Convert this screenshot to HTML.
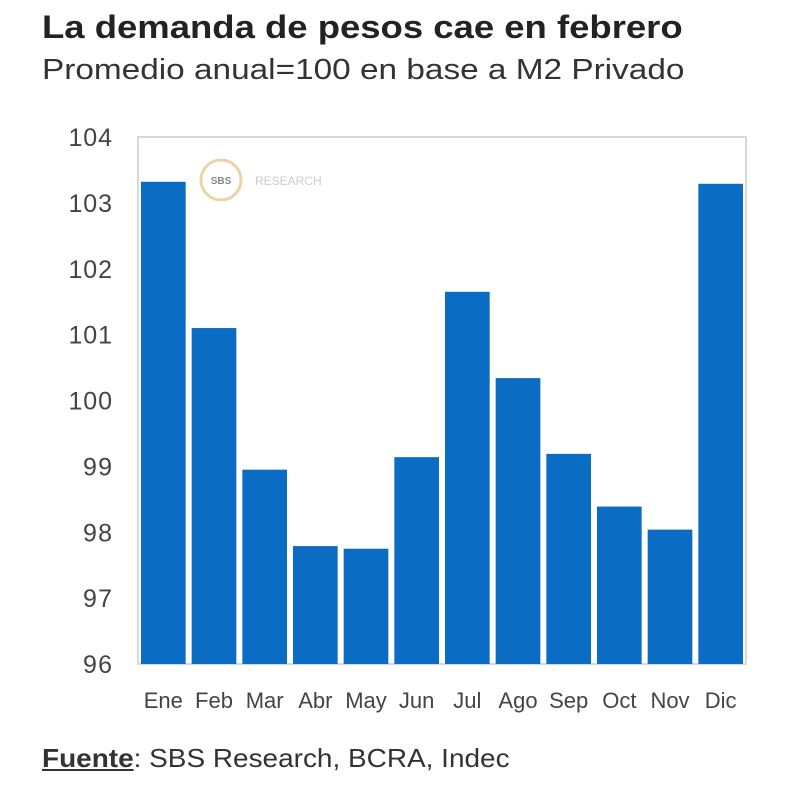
<!DOCTYPE html>
<html><head><meta charset="utf-8"><style>
body{margin:0;width:800px;height:786px;background:#fff;font-family:"Liberation Sans",sans-serif;overflow:hidden;position:relative}
.t{position:absolute;left:42px;top:9px;font-size:32px;font-weight:bold;color:#222;transform:scaleX(1.14);transform-origin:0 0;white-space:nowrap}
.s{position:absolute;left:42px;top:54px;font-size:29px;color:#333;transform:scaleX(1.15);transform-origin:0 0;white-space:nowrap}
.f{position:absolute;left:42px;top:743px;font-size:26px;color:#333;transform:scaleX(1.075);transform-origin:0 0;white-space:nowrap}
</style></head><body>
<div class="t">La demanda de pesos cae en febrero</div>
<div class="s">Promedio anual=100 en base a M2 Privado</div>
<svg id="c" width="800" height="786" style="position:absolute;left:0;top:0"></svg>
<div class="f"><b><u>Fuente</u></b>: SBS Research, BCRA, Indec</div>
<script>
const categories=["Ene","Feb","Mar","Abr","May","Jun","Jul","Ago","Sep","Oct","Nov","Dic"];
const values=[103.32,101.10,98.95,97.79,97.75,99.14,101.65,100.34,99.19,98.39,98.04,103.29];
const ticks=[96,97,98,99,100,101,102,103,104];
const NS="http://www.w3.org/2000/svg",svg=document.getElementById('c');
const x0=138,x1=746,y0=664,y1=137,vmin=96,vmax=104;
const y=v=>y0-(v-vmin)/(vmax-vmin)*(y0-y1);
const bw=(x1-x0)/categories.length;
function mk(t,a){const e=document.createElementNS(NS,t);for(const k in a)e.setAttribute(k,a[k]);svg.appendChild(e);return e;}
const fr=mk('rect',{x:x0,y:y1,width:x1-x0,height:y0-y1,fill:'none',stroke:'#d8d8d8','stroke-width':2});


const lg=mk('circle',{cx:221,cy:180,r:20,fill:'none',stroke:'#e8d6a8','stroke-width':3});


const lt=mk('text',{x:221,y:184,'font-size':10,'text-anchor':'middle',fill:'#888','font-weight':'bold'});lt.textContent='SBS';


const lr=mk('text',{x:255,y:185,'font-size':12,fill:'#ccc'});lr.textContent='RESEARCH';


ticks.forEach(t=>{const e=mk('text',{x:112,y:y(t)+9,'font-size':25,'text-anchor':'end',fill:'#444',textLength:String(t).length*14.5});e.textContent=t;

});
categories.forEach((c,i)=>{const bx=x0+i*bw+3;
const r=mk('rect',{x:bx,y:y(values[i]),width:bw-6,height:y0-y(values[i]),fill:'#0b6cc4'});


const l=mk('text',{x:x0+(i+0.5)*bw,y:708,'font-size':22,'text-anchor':'middle',fill:'#444'});l.textContent=c;

});
</script>
</body></html>
